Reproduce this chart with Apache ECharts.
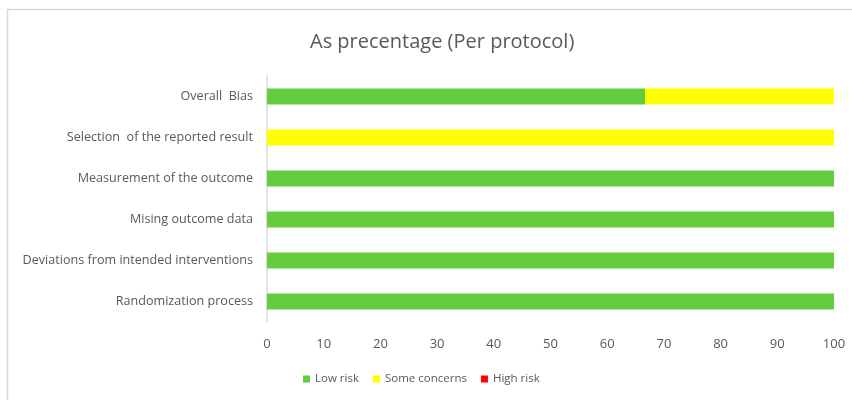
<!DOCTYPE html>
<html>
<head>
<meta charset="utf-8">
<script src="https://cdn.jsdelivr.net/npm/echarts@6/dist/echarts.min.js"></script>
<style>
  html, body { margin: 0; padding: 0; background: #fff; }
  #chart { width: 852px; height: 400px; }
</style>
</head>
<body>
<div id="chart"></div>
<script>
// Risk-of-bias domains, listed bottom to top
const domains = [
  'Randomization process',
  'Deviations from intended interventions',
  'Mising outcome data',
  'Measurement of the outcome',
  'Selection  of the reported result',
  'Overall  Bias'
];
const lowRisk = [100, 100, 100, 100, 0, 66.67];
const someConcerns = [0, 0, 0, 0, 100, 33.33];
const highRisk = [0, 0, 0, 0, 0, 0];
const xTicks = [0, 10, 20, 30, 40, 50, 60, 70, 80, 90, 100];

const textColor = '#595959';
const fontFamily = '"Open Sans", sans-serif';

const chart = echarts.init(document.getElementById('chart'), null, { renderer: 'canvas' });

function barSeries(name, data, color) {
  return {
    name: name,
    type: 'bar',
    stack: 'risk',
    data: data,
    barWidth: 16,
    itemStyle: { color: color },
    emphasis: { disabled: true }
  };
}

chart.setOption({
  animation: false,
  backgroundColor: '#fff',
  textStyle: { fontFamily: fontFamily },
  graphic: [{
    type: 'rect',
    shape: { x: 7.5, y: 9.5, width: 900, height: 500 },
    style: { fill: 'none', stroke: '#d9d9d9', lineWidth: 1.5 },
    silent: true
  }],
  title: {
    text: 'As precentage (Per protocol)',
    left: 305,
    top: 27,
    textStyle: { color: textColor, fontSize: 20, fontWeight: 'normal', fontFamily: fontFamily }
  },
  legend: {
    bottom: 15,
    left: 303,
    padding: 0,
    itemWidth: 7,
    itemHeight: 7,
    itemGap: 14,
    icon: 'rect',
    textStyle: { color: textColor, fontSize: 11.5, fontFamily: fontFamily },
    data: ['Low risk', 'Some concerns', 'High risk']
  },
  grid: { left: 267, right: 18, top: 76, bottom: 78, containLabel: false },
  xAxis: {
    type: 'value',
    min: 0,
    max: 100,
    interval: 10,
    axisLine: { show: false },
    axisTick: { show: false },
    splitLine: { show: false },
    axisLabel: {
      color: textColor,
      fontSize: 13,
      margin: 16,
      formatter: v => xTicks.includes(v) ? String(v) : ''
    }
  },
  yAxis: {
    type: 'category',
    data: domains,
    axisLine: { show: true, lineStyle: { color: '#d9d9d9', width: 1.5 } },
    axisTick: { show: false },
    axisLabel: { color: textColor, fontSize: 12.6, margin: 14 }
  },
  series: [
    barSeries('Low risk', lowRisk, '#66cc3f'),
    barSeries('Some concerns', someConcerns, '#ffff00'),
    barSeries('High risk', highRisk, '#ff0000')
  ]
});
</script>
</body>
</html>
